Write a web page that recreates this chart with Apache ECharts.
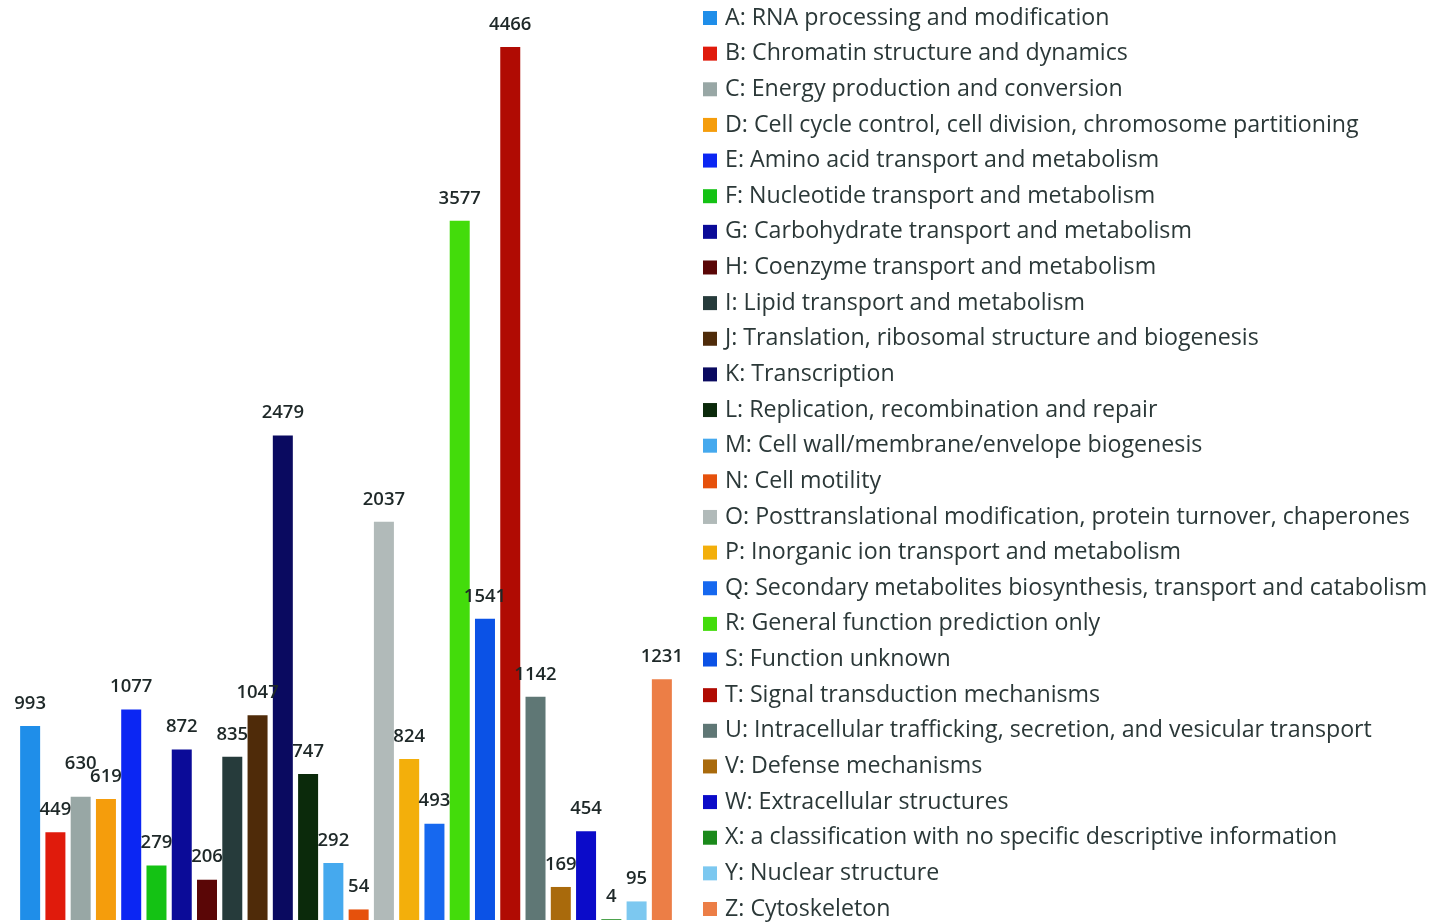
<!DOCTYPE html>
<html>
<head>
<meta charset="utf-8">
<script src="https://cdn.jsdelivr.net/npm/echarts@6/dist/echarts.min.js"></script>
<style>
  html, body { margin: 0; padding: 0; background: #ffffff; }
  #chart { width: 1445px; height: 924px; }
</style>
</head>
<body>
<div id="chart"></div>
<script>
// COG functional categories and gene counts
const codes = ['A','B','C','D','E','F','G','H','I','J','K','L','M','N','O','P','Q','R','S','T','U','V','W','X','Y','Z'];
const descriptions = [
  'RNA processing and modification',
  'Chromatin structure and dynamics',
  'Energy production and conversion',
  'Cell cycle control, cell division, chromosome partitioning',
  'Amino acid transport and metabolism',
  'Nucleotide transport and metabolism',
  'Carbohydrate transport and metabolism',
  'Coenzyme transport and metabolism',
  'Lipid transport and metabolism',
  'Translation, ribosomal structure and biogenesis',
  'Transcription',
  'Replication, recombination and repair',
  'Cell wall/membrane/envelope biogenesis',
  'Cell motility',
  'Posttranslational modification, protein turnover, chaperones',
  'Inorganic ion transport and metabolism',
  'Secondary metabolites biosynthesis, transport and catabolism',
  'General function prediction only',
  'Function unknown',
  'Signal transduction mechanisms',
  'Intracellular trafficking, secretion, and vesicular transport',
  'Defense mechanisms',
  'Extracellular structures',
  'a classification with no specific descriptive information',
  'Nuclear structure',
  'Cytoskeleton'
];
const counts = [993, 449, 630, 619, 1077, 279, 872, 206, 835, 1047, 2479, 747, 292, 54, 2037, 824, 493, 3577, 1541, 4466, 1142, 169, 454, 4, 95, 1231];
const colors = [
  '#1f8ee9', '#e01b0c', '#98a7a5', '#f59d0c', '#0b26f3', '#14c214', '#0b0b98', '#5a0606',
  '#263b3b', '#4f2b09', '#0a0a60', '#0b2a0b', '#45a9ee', '#e6510c', '#b1bab9', '#f3af0b',
  '#1668ef', '#43dc0b', '#0b52e6', '#b00b03', '#5f7775', '#a96a0c', '#0b0bc9', '#1b8a1b',
  '#7cc8f0', '#ec7e46'
];

// One series per category so each gets its own legend entry; stacking keeps
// every bar centred on its own category slot.
const series = codes.map((c, i) => ({
  name: c + ': ' + descriptions[i],
  type: 'bar',
  stack: 'cog',
  barWidth: 20,
  data: codes.map((_, j) => (j === i ? counts[i] : null)),
  itemStyle: { color: colors[i] },
  label: {
    show: true,
    position: 'top',
    distance: c === 'C' ? 24 : 13,
    color: '#1e2828',
    fontFamily: 'Open Sans',
    fontSize: 18.5,
    fontWeight: 600
  }
}));

const chart = echarts.init(document.getElementById('chart'), null, { renderer: 'canvas' });
chart.setOption({
  backgroundColor: '#ffffff',
  animation: false,
  grid: { left: 17.5, top: 47, width: 657, bottom: 4, containLabel: false },
  xAxis: {
    type: 'category',
    data: codes,
    show: false
  },
  yAxis: {
    type: 'value',
    min: 0,
    max: 4466,
    show: false
  },
  legend: {
    orient: 'vertical',
    left: 703,
    top: 6,
    height: 918,
    padding: 0,
    icon: 'rect',
    itemWidth: 14,
    itemHeight: 14,
    itemGap: 11.64,
    textStyle: {
      fontFamily: 'Open Sans',
      fontSize: 23.2,
      color: '#2b3838',
      lineHeight: 24,
      padding: [0, 0, 0, 3]
    },
    selectedMode: false
  },
  series: series
});
</script>
</body>
</html>
